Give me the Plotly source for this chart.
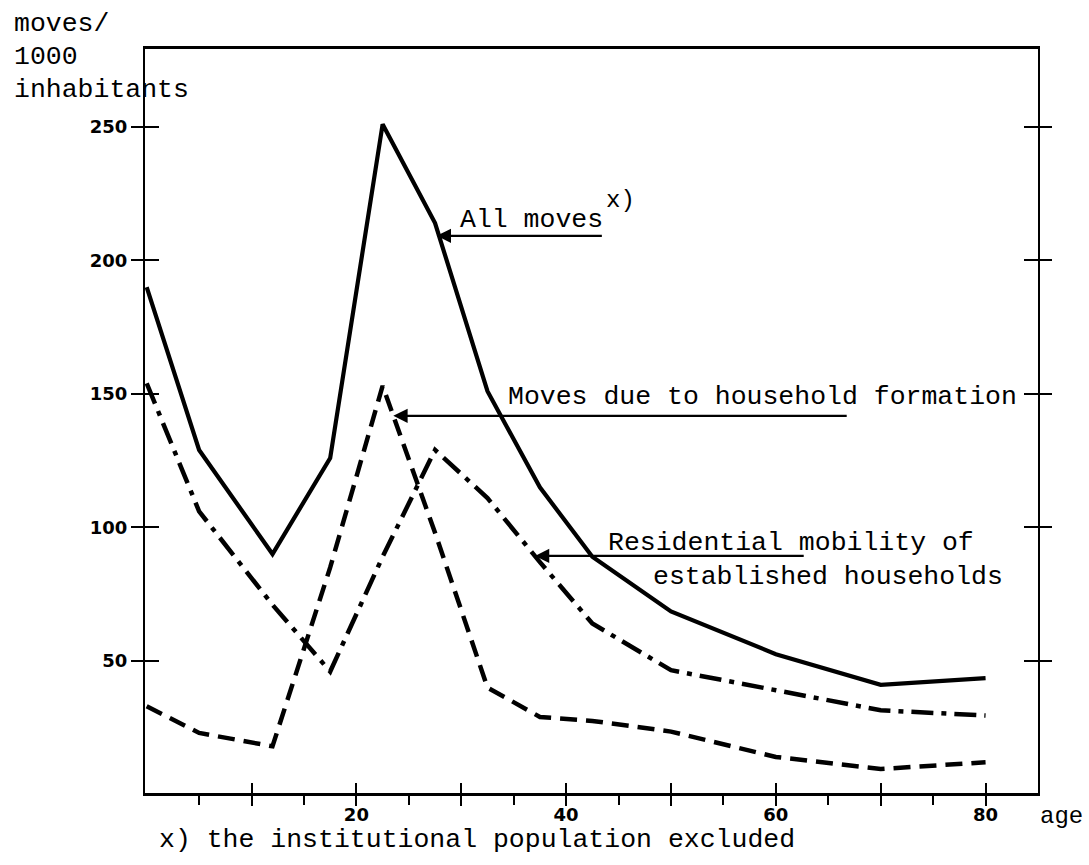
"""
Moves per 1000 inhabitants by age: all moves, household formation, residential mobility.
"""

import plotly.graph_objects as go

# ─────────────────────────────────────────────────────────────────────────────
# Data
# ─────────────────────────────────────────────────────────────────────────────

age = [0, 5, 12, 17.5, 22.5, 27.5, 32.5, 37.5, 42.5, 50, 60, 70, 80]

all_moves = [190, 129, 90, 126, 251, 214, 151, 115, 89, 68.5, 52.5, 41, 43.5]
household_formation = [33, 23, 18, 85, 153, 98, 40, 29, 27.5, 23.5, 14, 9.5, 12]
residential_mobility = [154, 106, 71, 46, 89, 129, 111, 87, 64, 46.5, 39, 31.5, 29.5]

y_ticks = [50, 100, 150, 200, 250]
x_major = [10, 20, 30, 40, 50, 60, 70, 80]
x_labels = ["", "20", "", "40", "", "60", "", "80"]
x_minor = [5, 15, 25, 35, 45, 55, 65, 75]

TYPE = "Courier New, Liberation Mono, monospace"
INK = "#000000"
W, H = 1089, 865
M = dict(l=145, r=51, t=49, b=72)

fig = go.Figure()
fig.add_trace(go.Scatter(
    x=age, y=all_moves, mode="lines",
    line=dict(color=INK, width=4.2),
))
fig.add_trace(go.Scatter(
    x=age, y=residential_mobility, mode="lines",
    line=dict(color=INK, width=4.5, dash="22px,8px,5px,8px"),
))
fig.add_trace(go.Scatter(
    x=age, y=household_formation, mode="lines",
    line=dict(color=INK, width=4.5, dash="17px,9px"),
    xaxis="x2", yaxis="y2",
))

x_range = [-0.16, 85.0]
y_range = [0.5, 279.2]

fig.update_layout(
    width=W, height=H,
    margin=M,
    plot_bgcolor="#ffffff",
    paper_bgcolor="#ffffff",
    showlegend=False,
    xaxis=dict(
        range=x_range, showgrid=False, zeroline=False,
        showline=True, linecolor=INK, linewidth=2.5, mirror=True,
        tickmode="array", tickvals=x_major,
        ticktext=[f"<b>{t}</b>" if t else "" for t in x_labels],
        ticks="outside", ticklen=10, tickwidth=2, tickcolor=INK,
        ticklabelstandoff=-6,
        minor=dict(tickmode="array", tickvals=x_minor, ticks="outside",
                   ticklen=9, tickwidth=2, tickcolor=INK),
        tickfont=dict(family="DejaVu Sans", size=18, color=INK),
    ),
    xaxis2=dict(
        range=x_range, overlaying="x", anchor="y2", side="bottom",
        showgrid=False, zeroline=False, showline=False,
        tickmode="array", tickvals=x_major,
        ticks="inside", ticklen=10, tickwidth=2, tickcolor=INK,
        showticklabels=False,
    ),
    yaxis=dict(
        range=y_range, showgrid=False, zeroline=False,
        showline=True, linecolor=INK, linewidth=2, mirror="ticks",
        tickmode="array", tickvals=y_ticks,
        ticktext=[f"<b>{v}</b>" for v in y_ticks],
        ticks="outside", ticklen=12, tickwidth=2, tickcolor=INK,
        tickfont=dict(family="DejaVu Sans", size=18, color=INK),
    ),
    yaxis2=dict(
        range=y_range, overlaying="y", anchor="x2", side="left",
        showgrid=False, zeroline=False, showline=False, mirror="ticks",
        tickmode="array", tickvals=y_ticks,
        ticks="inside", ticklen=14, tickwidth=2, tickcolor=INK,
        showticklabels=False,
    ),
    font=dict(family=TYPE, size=26, color=INK),
)

# curve labels, with the underline running into an arrow at the curve
labels = [
    ("All moves", 29.9, 215.2),
    ("Moves due to household formation", 34.46, 148.9),
    ("Residential mobility of", 44.0, 94.2),
    ("established households", 48.3, 81.5),
]
for text, x, y in labels:
    fig.add_annotation(
        x=x, y=y, text=text, showarrow=False,
        xanchor="left", yanchor="middle", xshift=-2,
        font=dict(family=TYPE, size=26.5, color=INK),
    )
fig.add_annotation(
    x=43.6, y=222.5, text="x)", showarrow=False,
    xanchor="left", yanchor="middle",
    font=dict(family=TYPE, size=24, color=INK),
)

arrows = [
    (27.66, 43.55, 209.2),
    (23.52, 66.9, 141.8),
    (37.03, 62.8, 89.3),
]
for tip, tail, y in arrows:
    fig.add_annotation(
        x=tip, y=y, ax=tail, ay=y, axref="x", ayref="y",
        text="", showarrow=True,
        arrowhead=2, arrowsize=1.3, arrowwidth=2.2, arrowcolor=INK,
    )

# axis titles and footnote, placed by page pixel
pw = W - M["l"] - M["r"]
ph = H - M["t"] - M["b"]
outer = [
    ("moves/", 12, 24, 26.5, "left"),
    ("1000", 12, 57, 26.5, "left"),
    ("inhabitants", 12, 90, 26.5, "left"),
    ("age", 1085, 816, 24, "right"),
    ("x) the institutional population excluded", 157, 840, 26.5, "left"),
]
for text, px, py, size, anchor in outer:
    fig.add_annotation(
        x=(px - M["l"]) / pw, y=(H - M["b"] - py) / ph,
        xref="paper", yref="paper",
        text=text, showarrow=False, xanchor=anchor, yanchor="middle",
        font=dict(family=TYPE, size=size, color=INK),
    )

# drop the default page margin so the figure sits at the window's top-left
fig.write_html(
    "out.html",
    config={"displayModeBar": False},
    post_script="document.body.style.margin='0px';",
)
